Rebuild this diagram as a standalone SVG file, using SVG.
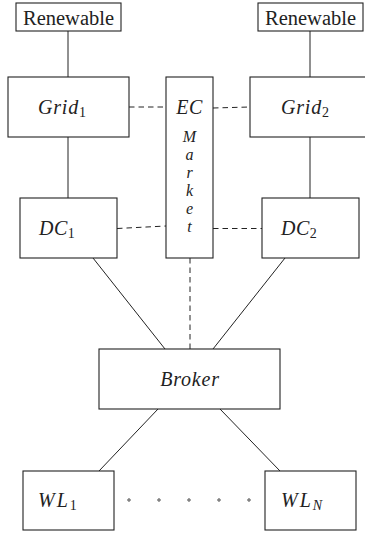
<svg xmlns="http://www.w3.org/2000/svg" width="365" height="533" viewBox="0 0 365 533">
<style>
rect.n{fill:#fff;stroke:#222;stroke-width:1.1}
.c line{stroke:#222;stroke-width:1}
.c line.d{stroke-dasharray:5.5,4}
text{font-family:"Liberation Serif","Times New Roman",serif;fill:#222}
.rm{font-size:20.5px}
.it{font-style:italic;font-size:20px}
.st{font-style:italic;font-size:16px}
.sub{font-style:normal;font-size:14px}
.subi{font-style:italic;font-size:14px}
</style>
<g class="c" id="connectors">
<line x1="68" y1="31" x2="68" y2="77"/>
<line x1="310" y1="31" x2="310" y2="77"/>
<line x1="68" y1="137" x2="68" y2="198"/>
<line x1="310" y1="137" x2="310" y2="198"/>
<line x1="93" y1="258" x2="165" y2="349"/>
<line x1="285" y1="258" x2="213" y2="349"/>
<line x1="158" y1="409" x2="99" y2="471"/>
<line x1="220" y1="409" x2="280" y2="471"/>
<line class="d" x1="129" y1="107" x2="166" y2="107"/>
<line class="d" x1="213" y1="108" x2="250" y2="107"/>
<line class="d" x1="117" y1="228.5" x2="166" y2="226"/>
<line class="d" x1="213" y1="228.5" x2="262" y2="228.5"/>
<line class="d" x1="190" y1="258" x2="190" y2="349"/>
</g>
<g id="renewable1"><rect class="n" x="16" y="3" width="105" height="28"/><text class="rm" x="68.5" y="24.5" text-anchor="middle">Renewable</text></g>
<g id="renewable2"><rect class="n" x="258" y="3" width="105" height="28"/><text class="rm" x="310.5" y="24.5" text-anchor="middle">Renewable</text></g>
<g id="grid1"><rect class="n" x="8" y="77" width="121" height="60"/><text class="it" x="38" y="114" letter-spacing="0.8">Grid<tspan class="sub" dy="3" letter-spacing="0">1</tspan></text></g>
<g id="grid2"><rect class="n" x="250" y="77" width="121" height="60"/><text class="it" x="281" y="114" letter-spacing="0.8">Grid<tspan class="sub" dy="3" letter-spacing="0">2</tspan></text></g>
<g id="ecmarket"><rect class="n" x="166" y="77" width="47" height="181"/>
<text class="it" x="189.5" y="114" text-anchor="middle" letter-spacing="0.5">EC</text>
<text class="st" text-anchor="middle"><tspan x="189.5" y="142">M</tspan><tspan x="189.5" y="160">a</tspan><tspan x="189.5" y="178">r</tspan><tspan x="189.5" y="196">k</tspan><tspan x="189.5" y="214">e</tspan><tspan x="189.5" y="232">t</tspan></text>
</g>
<g id="dc1"><rect class="n" x="20" y="198" width="97" height="60"/><text class="it" x="39" y="235" letter-spacing="0.5">DC<tspan class="sub" dy="3" letter-spacing="0">1</tspan></text></g>
<g id="dc2"><rect class="n" x="262" y="198" width="97" height="60"/><text class="it" x="281" y="235" letter-spacing="0.5">DC<tspan class="sub" dy="3" letter-spacing="0">2</tspan></text></g>
<g id="broker"><rect class="n" x="99" y="349" width="181" height="60"/><text class="it" x="190" y="386" text-anchor="middle" letter-spacing="0.8">Broker</text></g>
<g id="wl1"><rect class="n" x="23" y="471" width="91" height="59"/><text class="it" x="38" y="507" letter-spacing="2">WL<tspan class="sub" dy="3" letter-spacing="0">1</tspan></text></g>
<g id="wln"><rect class="n" x="265" y="471" width="91" height="59"/><text class="it" x="281" y="507" letter-spacing="2">WL<tspan class="subi" dy="3" letter-spacing="0">N</tspan></text></g>
<g id="dots" fill="none" stroke="#444" stroke-width="1">
<circle cx="129" cy="500" r="1.2"/><circle cx="159" cy="500" r="1.2"/><circle cx="189" cy="500" r="1.2"/><circle cx="219" cy="500" r="1.2"/><circle cx="249" cy="500" r="1.2"/>
</g>
</svg>
